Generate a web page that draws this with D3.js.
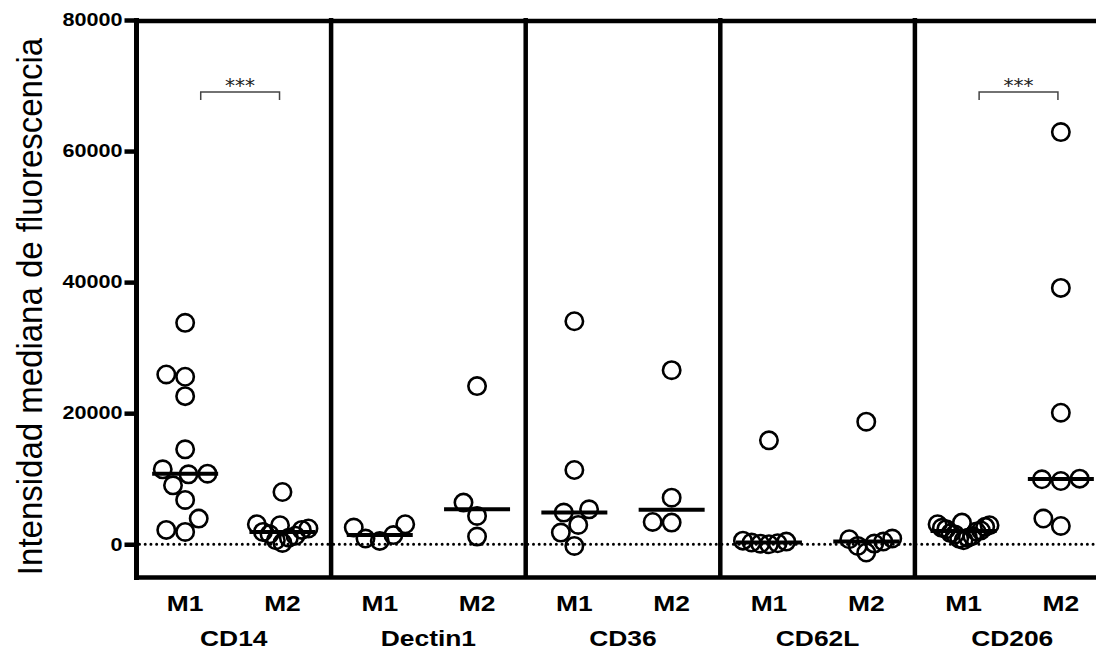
<!DOCTYPE html>
<html>
<head>
<meta charset="utf-8">
<script src="https://cdn.jsdelivr.net/npm/d3@7"></script>
<style>
    body { margin: 0; background: #fff; }
    svg { display: block; }
</style>
</head>
<body>
<script>
'use strict';

// Datos
const GRUPOS = ["CD14", "Dectin1", "CD36", "CD62L", "CD206"];
const TIPOS = ["M1", "M2"];
const TICKS_Y = [0, 20000, 40000, 60000, 80000];
const TITULO_Y = "Intensidad mediana de fluorescencia";

const cd14M1 = [33790, 25910, 25560, 22600, 14480, 11430, 10770, 10670, 8990, 6760, 3910, 2190, 1880];
const cd14M2 = [7970, 3050, 2900, 2400, 2190, 1880, 1520, 1300, 1000, 600, 200];
const dectinM1 = [3050, 2540, 1400, 870, 500];
const dectinM2 = [24130, 6350, 4320, 1170];
const cd36M1 = [34030, 11330, 5330, 4830, 2950, 1780, -260];
const cd36M2 = [26560, 7110, 3400, 3300];
const cd62lM1 = [15850, 550, 400, 260, 150, 80, 0];
const cd62lM2 = [18700, 870, 760, 410, 100, -260, -1260];
const cd206M1 = [3300, 3050, 2900, 2650, 2500, 2300, 2100, 1950, 1700, 1500, 1250, 1000, 850, 600];
const cd206M2 = [62900, 39120, 20070, 10010, 9910, 9650, 3920, 2790];

// Comparaciones significativas (M1 vs M2)
const SIGNIFICATIVOS = ["CD14", "CD206"];
const ETIQUETA_SIG = "***";
const ALTURA_SIG = 69000;

const datos = {
    "CD14": {"M1": cd14M1, "M2": cd14M2},
    "Dectin1": {"M1": dectinM1, "M2": dectinM2},
    "CD36": {"M1": cd36M1, "M2": cd36M2},
    "CD62L": {"M1": cd62lM1, "M2": cd62lM2},
    "CD206": {"M1": cd206M1, "M2": cd206M2}
};

const W = 1096, H = 652;
const X0 = 136.5, ANCHO_PANEL = 194.6;
const Y_ARRIBA = 20, Y_ABAJO = 577;
const R = 8.7;
const FUENTE = "'Liberation Sans', Arial, sans-serif";
const ESTIRAR = 1.2; // el texto original esta ensanchado

const x = d3.scaleBand().domain(GRUPOS).range([X0, X0 + ANCHO_PANEL * GRUPOS.length]).padding(0);
const xi = d3.scalePoint().domain(TIPOS).range([0, x.bandwidth()]).padding(0.5);
const y = d3.scaleLinear().domain([-5000, 80000]).range([Y_ABAJO, Y_ARRIBA]);

const svg = d3.select("body").append("svg")
    .attr("width", W)
    .attr("height", H);

/**
 * Colocar los puntos de una columna sin que se pisen (tipo beeswarm),
 * empezando por los valores bajos, y comprimir si queda demasiado ancha
 */
function enjambre(valores, limite) {
    const D = 2 * R + 1.6;
    const pts = valores.map(v => ({v: v, cy: y(v), dx: 0})).sort((a, b) => b.cy - a.cy);
    const puestos = [];
    pts.forEach(p => {
        const candidatos = [0];
        puestos.forEach(q => {
            const dy = Math.abs(p.cy - q.cy);
            if (dy < D) {
                const d = Math.sqrt(D * D - dy * dy);
                candidatos.push(q.dx + d, q.dx - d);
            }
        });
        candidatos.sort((a, b) => Math.abs(a) - Math.abs(b) || a - b);
        for (const c of candidatos) {
            const choca = puestos.some(q => Math.hypot(q.dx - c, q.cy - p.cy) < D - 0.01);
            if (!choca) {
                p.dx = c;
                break;
            }
        }
        puestos.push(p);
    });
    const maxDx = d3.max(pts, p => Math.abs(p.dx));
    if (maxDx > limite) {
        pts.forEach(p => { p.dx = p.dx * limite / maxDx; });
    }
    return pts;
}

/**
 * Texto en negrita, ensanchado como en la figura original
 */
function etiqueta(px, py, texto, tam) {
    svg.append("text")
        .attr("transform", `translate(${px},${py}) scale(${ESTIRAR},1)`)
        .attr("text-anchor", "middle")
        .style("font-family", FUENTE)
        .style("font-weight", "bold")
        .style("font-size", tam + "px")
        .text(texto);
}

// Linea punteada en cero
svg.append("line")
    .attr("x1", X0 + 3).attr("x2", W)
    .attr("y1", y(0)).attr("y2", y(0))
    .attr("stroke", "#000")
    .attr("stroke-width", 3)
    .attr("stroke-linecap", "round")
    .attr("stroke-dasharray", "0.01 5.7");

// Eje Y
const ejeY = svg.append("g")
    .attr("transform", `translate(${X0},0)`)
    .call(d3.axisLeft(y).tickValues(TICKS_Y).tickSize(12).tickPadding(2).tickFormat(d3.format("d")));
ejeY.select(".domain").remove();
ejeY.selectAll(".tick line").attr("stroke", "#000").attr("stroke-width", 4.5);
ejeY.selectAll(".tick text")
    .attr("fill", "#000")
    .attr("x", -14 / ESTIRAR)
    .attr("transform", `scale(${ESTIRAR},1)`)
    .style("font-family", FUENTE)
    .style("font-weight", "bold")
    .style("font-size", "18px");

svg.append("text")
    .attr("transform", `translate(42,${(Y_ARRIBA + Y_ABAJO) / 2 + 8}) scale(1.08,1) rotate(-90)`)
    .attr("text-anchor", "middle")
    .style("font-family", FUENTE)
    .style("font-size", "33px")
    .text(TITULO_Y);

// Marco: lineas verticales de cada panel, arriba y abajo
GRUPOS.forEach((g, i) => {
    svg.append("line")
        .attr("x1", x(g)).attr("x2", x(g))
        .attr("y1", Y_ARRIBA - 2).attr("y2", i === 0 ? Y_ABAJO + 3 : Y_ABAJO)
        .attr("stroke", "#000")
        .attr("stroke-width", i === 0 ? 5 : 4.5);
});
svg.append("line")
    .attr("x1", X0).attr("x2", W)
    .attr("y1", Y_ARRIBA + 1).attr("y2", Y_ARRIBA + 1)
    .attr("stroke", "#000").attr("stroke-width", 4.5);
svg.append("line")
    .attr("x1", X0 - 2.5).attr("x2", W)
    .attr("y1", Y_ABAJO + 0.5).attr("y2", Y_ABAJO + 0.5)
    .attr("stroke", "#000").attr("stroke-width", 4.5);

// Puntos y medianas
GRUPOS.forEach(g => {
    TIPOS.forEach(t => {
        const valores = datos[g][t];
        const cx = x(g) + xi(t);
        const pts = enjambre(valores, 26);

        svg.append("g").selectAll("circle")
            .data(pts)
            .join("circle")
            .attr("cx", p => cx + p.dx)
            .attr("cy", p => p.cy)
            .attr("r", R)
            .attr("fill", "none")
            .attr("stroke", "#000")
            .attr("stroke-width", 2.6);

        const med = d3.median(valores);
        svg.append("line")
            .attr("x1", cx - 33).attr("x2", cx + 33)
            .attr("y1", y(med)).attr("y2", y(med))
            .attr("stroke", "#000")
            .attr("stroke-width", 4);

        etiqueta(cx, 611, t, 22);
    });

    etiqueta(x(g) + x.bandwidth() / 2, 646, g, 22);
});

// Corchetes de significancia
SIGNIFICATIVOS.forEach(g => {
    const xa = x(g) + 0.33 * x.bandwidth();
    const xb = x(g) + 0.735 * x.bandwidth();
    const ys = y(ALTURA_SIG);
    svg.append("path")
        .attr("d", `M${xa},${ys + 8}V${ys}H${xb}V${ys + 8}`)
        .attr("fill", "none")
        .attr("stroke", "#444")
        .attr("stroke-width", 1.5);
    svg.append("text")
        .attr("x", (xa + xb) / 2).attr("y", ys)
        .attr("text-anchor", "middle")
        .attr("fill", "#222")
        .style("font-family", "'DejaVu Sans', sans-serif")
        .style("font-size", "20px")
        .text(ETIQUETA_SIG);
});
</script>
</body>
</html>
